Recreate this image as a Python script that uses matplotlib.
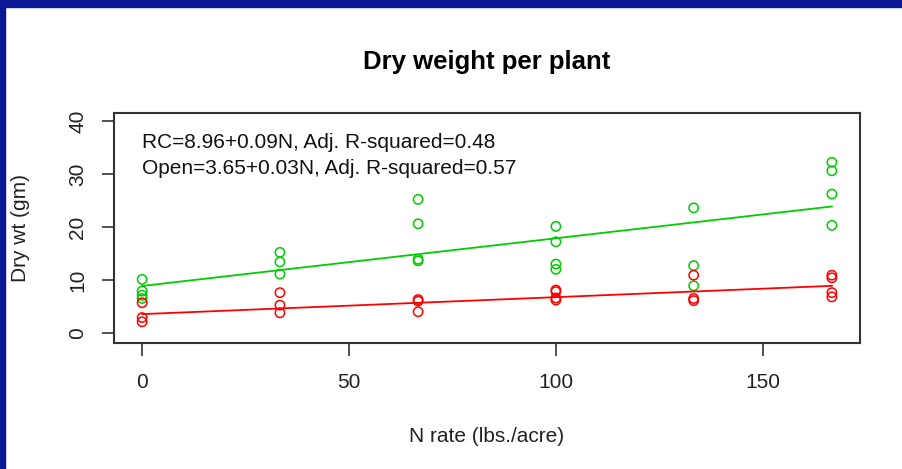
import numpy as np
import matplotlib
matplotlib.use("Agg")
import matplotlib.pyplot as plt
from matplotlib.patches import Rectangle

plt.rcParams['font.family'] = ['Liberation Sans', 'DejaVu Sans']

# N rates (lbs./acre) and dry weights
n_rc = [0, 0, 0, 0,
        33.3, 33.3, 33.3,
        66.7, 66.7, 66.7, 66.7,
        100, 100, 100, 100,
        133.3, 133.3, 133.3,
        166.7, 166.7, 166.7, 166.7]
wt_rc = [10.2, 8.0, 7.2, 6.6,
         15.3, 13.5, 11.2,
         25.3, 20.7, 14.0, 13.7,
         20.2, 17.3, 13.1, 12.1,
         23.7, 12.8, 9.0,
         32.3, 30.7, 26.3, 20.4]

n_open = [0, 0, 0,
          33.3, 33.3, 33.3,
          66.7, 66.7, 66.7,
          100, 100, 100, 100,
          133.3, 133.3, 133.3,
          166.7, 166.7, 166.7, 166.7]
wt_open = [5.8, 3.0, 2.2,
           7.7, 5.35, 3.9,
           6.4, 6.1, 4.1,
           8.2, 7.9, 6.7, 6.3,
           11.0, 6.6, 6.2,
           11.0, 10.5, 7.7, 6.9]

# fitted lines (intercept, slope) as given in the chart text
fit_rc = [8.96, 0.09]
fit_open = [3.65, 0.032]
labels = ["RC=8.96+0.09N, Adj. R-squared=0.48",
          "Open=3.65+0.03N, Adj. R-squared=0.57"]

green = "#00cd00"
red = "#ff0000"

fig = plt.figure(figsize=(9.03, 4.69), dpi=100)
# blue slide border at top and left
fig.patches.append(Rectangle((0, 1 - 7 / 469), 1, 7 / 469, transform=fig.transFigure,
                             color="#0a1896", zorder=0))
fig.patches.append(Rectangle((0, 0), 5 / 903, 1, transform=fig.transFigure,
                             color="#0a1896", zorder=0))

ax = fig.add_axes([114 / 903, 126 / 469, 746 / 903, 230 / 469])

ax.scatter(n_rc, wt_rc, s=45, facecolors="none", edgecolors=green, linewidths=1.1)
ax.scatter(n_open, wt_open, s=45, facecolors="none", edgecolors=red, linewidths=1.1)

xl = np.array([0, 166.7])
ax.plot(xl, fit_rc[0] + fit_rc[1] * xl, color=green, lw=1.3)
ax.plot(xl, fit_open[0] + fit_open[1] * xl, color=red, lw=1.3)

ax.set_xlim(-6.8, 173.5)
ax.set_ylim(-1.8, 41.6)
ax.set_xticks([0, 50, 100, 150])
ax.set_yticks([0, 10, 20, 30, 40])
ax.tick_params(axis="both", length=9, width=1.2, color="#333333",
               labelsize=15, labelcolor="#222222")
ax.tick_params(axis="x", pad=12.5)
ax.tick_params(axis="y", pad=10.4)
for lab in ax.get_yticklabels():
    lab.set_rotation(90)
    lab.set_va("center")
for sp in ax.spines.values():
    sp.set_linewidth(1.5)
    sp.set_color("#333333")

ax.text(0, 36.0, labels[0], fontsize=15, color="#111111", va="center", ha="left")
ax.text(0, 31.2, labels[1], fontsize=15, color="#111111", va="center", ha="left")

fig.text(487 / 903, 1 - 62 / 469, "Dry weight per plant", fontsize=18.5,
         fontweight="bold", ha="center", va="center")
fig.text(487 / 903, 1 - 437 / 469, "N rate (lbs./acre)", fontsize=15,
         ha="center", va="center", color="#222222")
fig.text(21 / 903, 1 - 228 / 469, "Dry wt (gm)", fontsize=15, rotation=90,
         ha="center", va="center", color="#222222")

fig.savefig("out.png", dpi=100)
